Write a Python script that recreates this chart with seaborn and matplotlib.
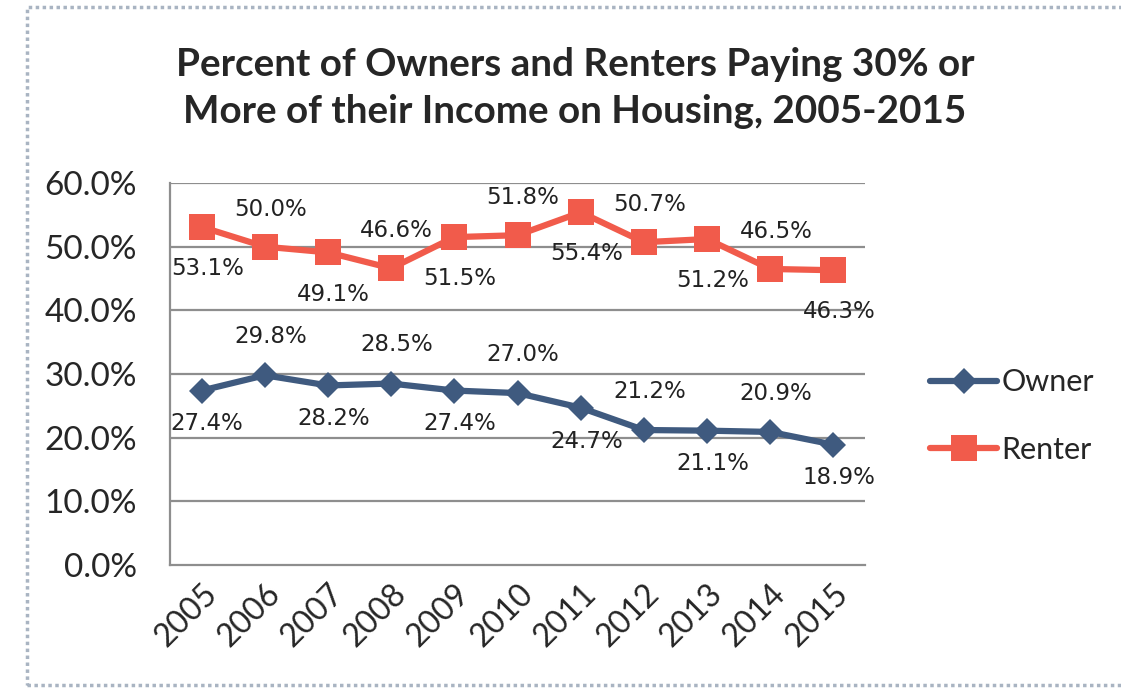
import matplotlib
matplotlib.use("Agg")
import matplotlib.pyplot as plt
from matplotlib.patches import Rectangle
import pandas as pd
import seaborn as sns

years = ["2005", "2006", "2007", "2008", "2009", "2010",
         "2011", "2012", "2013", "2014", "2015"]
owner = [27.4, 29.8, 28.2, 28.5, 27.4, 27.0, 24.7, 21.2, 21.1, 20.9, 18.9]
renter = [53.1, 50.0, 49.1, 46.6, 51.5, 51.8, 55.4, 50.7, 51.2, 46.5, 46.3]
y_ticks = [0, 10, 20, 30, 40, 50, 60]
title = "Percent of Owners and Renters Paying 30% or\nMore of their Income on Housing, 2005-2015"

OWNER_C = "#3F5A7F"
RENTER_C = "#F15B4B"
GRID_C = "#8E8E8E"

sns.set_style("white")
plt.rcParams["font.family"] = ["Lato", "DejaVu Sans"]

df = pd.DataFrame({
    "idx": list(range(len(years))) * 2,
    "value": owner + renter,
    "series": ["Owner"] * len(years) + ["Renter"] * len(years),
})

fig = plt.figure(figsize=(11.21, 6.88), dpi=100)
ax = fig.add_axes([0.1517, 0.1788, 0.62, 0.5552])

sns.lineplot(data=df[df.series == "Owner"], x="idx", y="value", ax=ax,
             color=OWNER_C, marker="D", markersize=13, linewidth=4.5,
             markeredgewidth=0, label="Owner", zorder=3)
sns.lineplot(data=df[df.series == "Renter"], x="idx", y="value", ax=ax,
             color=RENTER_C, marker="s", markersize=19, linewidth=4.5,
             markeredgewidth=0, label="Renter", zorder=3)

# data labels alternate below / above the points
for vals, below, above in ((owner, -24, 28), (renter, -30, 27)):
    for i, v in enumerate(vals):
        dy = below if i % 2 == 0 else above
        ax.annotate(f"{v:.1f}%", (i, v), xytext=(4, dy), textcoords="offset points",
                    ha="center", va="center", fontsize=16.5,
                    family="DejaVu Sans", color="#222222", zorder=4)

ax.set_xlim(-0.5, len(years) - 0.5)
ax.set_ylim(0, 60)
ax.set_yticks(y_ticks)
ax.set_yticklabels([f"{t:.1f}%" for t in y_ticks], fontsize=24)
ax.set_xticks(range(len(years)))
ax.set_xticklabels(years, rotation=45, ha="right", rotation_mode="anchor", fontsize=23)
ax.tick_params(axis="y", length=0, pad=24)
ax.tick_params(axis="x", length=0, pad=10)
ax.set_xlabel("")
ax.set_ylabel("")
for y in y_ticks[1:]:
    ax.axhline(y, color=GRID_C, linewidth=1.6, zorder=1)
for s in ("top", "right"):
    ax.spines[s].set_visible(False)
for s in ("left", "bottom"):
    ax.spines[s].set_color(GRID_C)
    ax.spines[s].set_linewidth(1.6)

ax.legend(loc="center left", bbox_to_anchor=(0.805, 0.395),
          bbox_transform=fig.transFigure, frameon=False, fontsize=22,
          handlelength=2.2, handletextpad=0.15, labelspacing=1.3)

fig.text(0.513, 0.872, title, ha="center", va="center", fontsize=27.8,
         fontweight="bold", linespacing=1.4)

fig.patches.append(Rectangle((27 / 1121, 3 / 688), 1, 678 / 688,
                             transform=fig.transFigure, fill=False,
                             edgecolor="#A9B4C2", linestyle=(0, (1, 1)),
                             linewidth=2.5))

fig.savefig("out.png", dpi=100)
